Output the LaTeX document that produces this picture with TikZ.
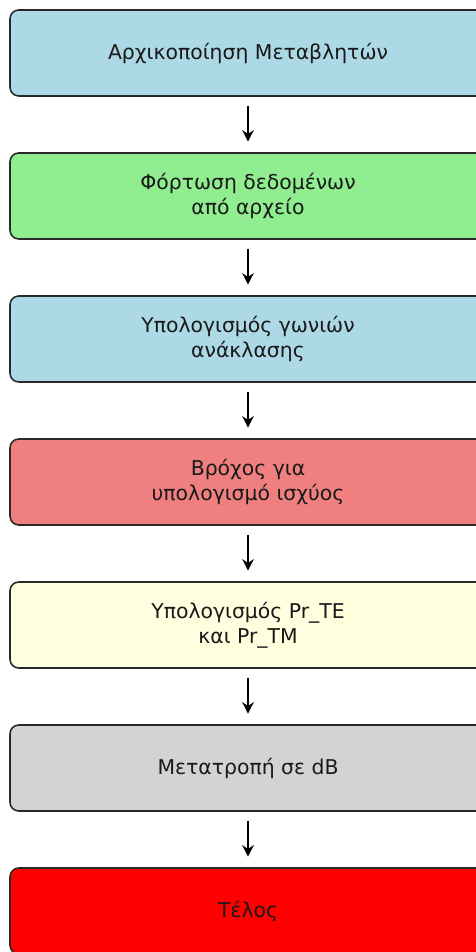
\documentclass[tikz,border=0pt]{standalone}
\usepackage{fontspec}
\setmainfont{DejaVu Sans}
\usetikzlibrary{arrows.meta,positioning}

\definecolor{lblue}{RGB}{173,216,230}
\definecolor{lgreen}{RGB}{144,238,144}
\definecolor{lcoral}{RGB}{240,128,128}
\definecolor{lyellow}{RGB}{255,255,224}
\definecolor{lgray}{RGB}{211,211,211}
\definecolor{edge}{RGB}{40,40,40}

\begin{document}
\begin{tikzpicture}[x=0.02cm,y=0.02cm,
        stepbox/.style={rectangle,rounded corners=5pt,draw=edge,line width=0.9pt,
            minimum width=476*0.02cm,minimum height=86*0.02cm,align=center,
            text=black!90,font=\fontsize{11.6}{14.3}\selectfont},
        flow/.style={-{Stealth[length=6.5pt,width=6.5pt]},line width=1.5pt,
            shorten <=5pt,shorten >=6pt}]
        %\draw [help lines] (0,0) grid (476,-952);
        \useasboundingbox (0,0) rectangle (476,-952);

        \node [stepbox,fill=lblue] (init) at (248,-53) {Αρχικοποίηση Μεταβλητών};
        \node [stepbox,fill=lgreen] (load) at (248,-196) {Φόρτωση δεδομένων\\από αρχείο};
        \node [stepbox,fill=lblue] (angles) at (248,-339) {Υπολογισμός γωνιών\\ανάκλασης};
        \node [stepbox,fill=lcoral] (loop) at (248,-482) {Βρόχος για\\υπολογισμό ισχύος};
        \node [stepbox,fill=lyellow] (power) at (248,-625) {Υπολογισμός Pr\_TE\\και Pr\_TM};
        \node [stepbox,fill=lgray] (db) at (248,-768) {Μετατροπή σε dB};
        \node [stepbox,fill=red] (end) at (248,-911) {Τέλος};

        \draw [flow] (init) -- (load);
        \draw [flow] (load) -- (angles);
        \draw [flow] (angles) -- (loop);
        \draw [flow] (loop) -- (power);
        \draw [flow] (power) -- (db);
        \draw [flow] (db) -- (end);

\end{tikzpicture}
\end{document}
